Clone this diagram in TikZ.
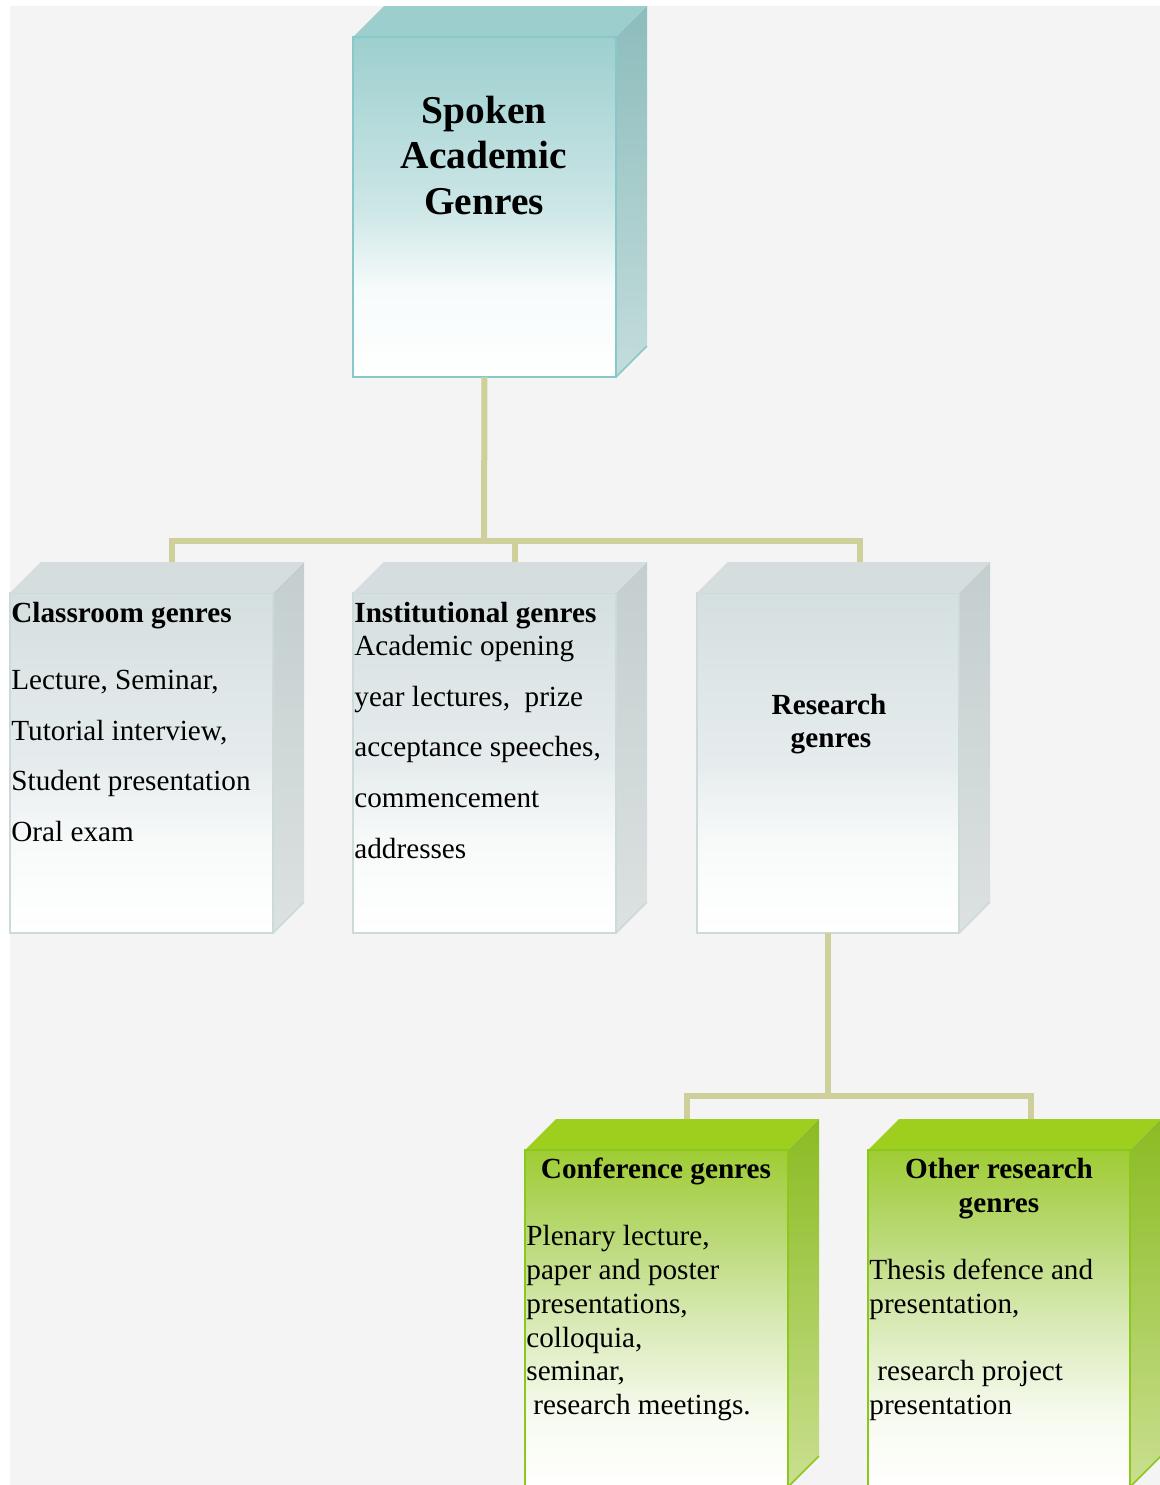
\documentclass[tikz,border=0pt]{standalone}
\usepackage{fontspec}
\setmainfont{Liberation Serif}
\usetikzlibrary{fit,calc}

\definecolor{bgc}{HTML}{F4F4F4}
\definecolor{conn}{HTML}{CFCF9B}
% teal
\definecolor{tealtop}{HTML}{9CCECE}
\definecolor{tealsideA}{HTML}{8CBCBC}
\definecolor{tealsideB}{HTML}{C4DCDC}
\definecolor{tealline}{HTML}{88C8C8}
\definecolor{tealF1}{HTML}{9DCFCF}
\definecolor{tealF2}{HTML}{CCE6E6}
\definecolor{tealF3}{HTML}{F6FBFB}
% gray
\definecolor{graytop}{HTML}{D5DDDE}
\definecolor{graysideA}{HTML}{C4CECF}
\definecolor{graysideB}{HTML}{DCE1E1}
\definecolor{grayline}{HTML}{CCDADA}
\definecolor{grayF1}{HTML}{D5DFE0}
\definecolor{grayF2}{HTML}{E6ECED}
\definecolor{grayF3}{HTML}{F8FAFA}
% green
\definecolor{greentop}{HTML}{9ECE1E}
\definecolor{greensideA}{HTML}{8ABB22}
\definecolor{greensideB}{HTML}{CADF90}
\definecolor{greenline}{HTML}{8CC81C}
\definecolor{greenF1}{HTML}{9FCC34}
\definecolor{greenF2}{HTML}{BAD977}
\definecolor{greenF3}{HTML}{D7E9B3}
\definecolor{greenF4}{HTML}{F6FAEE}

\pgfdeclareverticalshading{tealfront}{100bp}{color(0bp)=(white); color(25bp)=(white); color(38bp)=(tealF3); color(50bp)=(tealF2); color(75bp)=(tealF1); color(100bp)=(tealF1)}
\pgfdeclareverticalshading{grayfront}{100bp}{color(0bp)=(white); color(25bp)=(white); color(38bp)=(grayF3); color(50bp)=(grayF2); color(75bp)=(grayF1); color(100bp)=(grayF1)}
\pgfdeclareverticalshading{greenfront}{100bp}{color(0bp)=(white); color(25bp)=(white); color(36bp)=(greenF4); color(50bp)=(greenF3); color(62bp)=(greenF2); color(75bp)=(greenF1); color(100bp)=(greenF1)}

% #1 name, #2 x0, #3 y0, #4 x1, #5 y1, #6 colour prefix
\newcommand\cubebox[6]{%
  \fill[#6top] (#2,#3) -- (#2+31,#3-31) -- (#4+31,#3-31) -- (#4,#3) -- cycle;
  \shade[top color=#6sideA, bottom color=#6sideB] (#4,#3) -- (#4+31,#3-31) -- (#4+31,#5-31) -- (#4,#5) -- cycle;
  \shade[shading=#6front] (#2,#3) rectangle (#4,#5);
  \draw[#6line, line width=0.75pt] (#2,#3) rectangle (#4,#5);
  \draw[#6line, line width=0.75pt] (#4,#5) -- (#4+31,#5-31);
  \coordinate (#1-nw) at (#2,#3);
  \coordinate (#1-se) at (#4,#5);
  \node[inner sep=0, outer sep=0, fit=(#1-nw)(#1-se)] (#1) {};
}

\tikzset{
  conn/.style={draw=conn, line width=3pt},
  ttl/.style={anchor=base, inner sep=0, font=\bfseries\fontsize{19.7}{23}\selectfont},
  hd/.style={anchor=base west, inner sep=0, font=\bfseries\fontsize{14.6}{17}\selectfont},
  hdc/.style={anchor=base, inner sep=0, font=\bfseries\fontsize{14.6}{17}\selectfont},
  body/.style={anchor=base west, inner sep=0, font=\fontsize{14.6}{17}\selectfont},
}

\begin{document}
\begin{tikzpicture}[x=0.5pt, y=-0.5pt]
\useasboundingbox (0,0) rectangle (1160,1485);
\fill[white] (0,0) rectangle (1160,1485);
\fill[bgc] (10,6) rectangle (1160,1485);

% connector anchor points
\coordinate (j1) at (484,541);
\coordinate (clsT) at (172,563);
\coordinate (instT) at (515,563);
\coordinate (resT) at (860,563);
\coordinate (j2) at (828,1096);
\coordinate (confT) at (687,1119);
\coordinate (othT) at (1031,1119);

% boxes
\cubebox{root}{353}{37}{616}{377}{teal}
\cubebox{cls}{10}{593}{273}{933}{gray}
\cubebox{inst}{353}{593}{616}{933}{gray}
\cubebox{res}{697}{593}{959}{933}{gray}

% connectors (upper)
\draw[conn] (root.south) -- (j1);
\draw[conn] (clsT) -- (clsT |- j1) -- (resT |- j1) -- (resT);
\draw[conn] (instT |- j1) -- (instT);
% connectors (lower)
\draw[conn] (res.south) -- (j2);
\draw[conn] (confT) -- (confT |- j2) -- (othT |- j2) -- (othT);

% redraw top faces over connector ends
\fill[graytop] (10,593) -- (41,562) -- (304,562) -- (273,593) -- cycle;
\fill[graytop] (353,593) -- (384,562) -- (647,562) -- (616,593) -- cycle;
\fill[graytop] (697,593) -- (728,562) -- (990,562) -- (959,593) -- cycle;

\cubebox{conf}{525}{1150}{788}{1487}{green}
\cubebox{oth}{868}{1150}{1130}{1487}{green}

% title
\node[ttl] (t1) at (484,123) {Spoken};
\node[ttl] (t2) at (484,168) {Academic};
\node[ttl] (t3) at (484,214) {Genres};

% classroom
\node[hd] (c0) at (11,622) {Classroom genres};
\node[body] (c1) at (11,689) {Lecture, Seminar,};
\node[body] (c2) at (11,740) {Tutorial interview,};
\node[body] (c3) at (11,790) {Student presentation};
\node[body] (c4) at (11,841) {Oral exam};

% institutional
\node[hd] (i0) at (354,622) {Institutional genres};
\node[body] (i1) at (354,655) {Academic opening};
\node[body] (i2) at (354,706) {year lectures,\ \ prize};
\node[body] (i3) at (354,756) {acceptance speeches,};
\node[body] (i4) at (354,807) {commencement};
\node[body] (i5) at (354,858) {addresses};

% research
\node[hdc] (r0) at (829,714) {Research};
\node[hdc] (r1) at (831,747) {genres};

% conference
\node[hdc] (f0) at (656,1178) {Conference genres};
\node[body] (f1) at (526,1245) {Plenary lecture,};
\node[body] (f2) at (526,1279) {paper and poster};
\node[body] (f3) at (526,1313) {presentations,};
\node[body] (f4) at (526,1347) {colloquia,};
\node[body] (f5) at (526,1380) {seminar,};
\node[body] (f6) at (533,1414) {research meetings.};

% other research
\node[hdc] (o0) at (999,1178) {Other research};
\node[hdc] (o1) at (999,1212) {genres};
\node[body] (o2) at (869,1279) {Thesis defence and};
\node[body] (o3) at (869,1313) {presentation,};
\node[body] (o4) at (877,1380) {research project};
\node[body] (o5) at (869,1414) {presentation};
\end{tikzpicture}
\end{document}
